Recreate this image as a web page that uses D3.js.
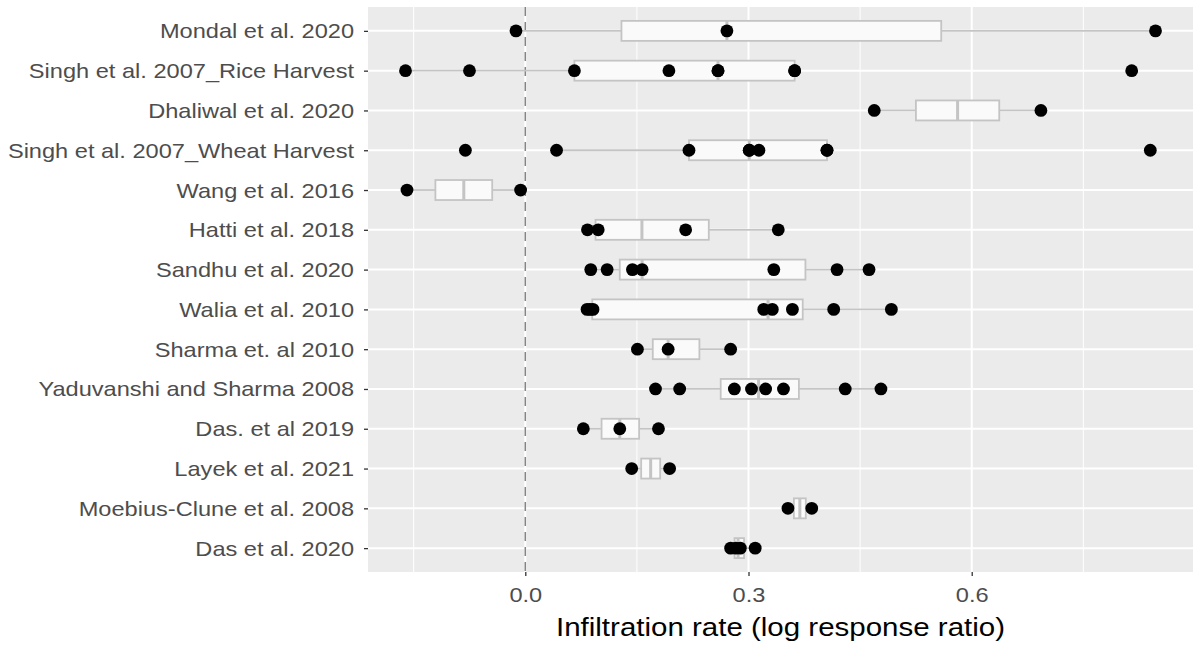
<!DOCTYPE html>
<html>
<head>
<meta charset="utf-8">
<script src="https://cdn.jsdelivr.net/npm/d3@7"></script>
<style>
  body { margin: 0; background: #fff; }
  text { font-family: "Liberation Sans", Arial, sans-serif; }
</style>
</head>
<body>
<div id="chart"></div>
<script>
// Studies, top to bottom
const studies = ["Mondal et al. 2020", "Singh et al. 2007_Rice Harvest", "Dhaliwal et al. 2020",
  "Singh et al. 2007_Wheat Harvest", "Wang et al. 2016", "Hatti et al. 2018", "Sandhu et al. 2020",
  "Walia et al. 2010", "Sharma et. al 2010", "Yaduvanshi and Sharma 2008", "Das. et al 2019",
  "Layek et al. 2021", "Moebius-Clune et al. 2008", "Das et al. 2020"];

// log response ratios for each study (same order)
const values = [
  [-0.0125, 0.271, 0.847],
  [-0.161, -0.075, 0.066, 0.193, 0.259, 0.259, 0.362, 0.362, 0.815],
  [0.469, 0.693],
  [-0.0805, 0.042, 0.220, 0.301, 0.301, 0.314, 0.4055, 0.4055, 0.840],
  [-0.159, -0.0063],
  [0.0836, 0.098, 0.2155, 0.340],
  [0.088, 0.110, 0.144, 0.157, 0.334, 0.419, 0.462],
  [0.083, 0.087, 0.091, 0.3205, 0.332, 0.359, 0.4145, 0.492],
  [0.1507, 0.192, 0.276],
  [0.175, 0.2075, 0.281, 0.304, 0.323, 0.347, 0.430, 0.478],
  [0.078, 0.127, 0.179],
  [0.143, 0.194],
  [0.353, 0.385],
  [0.276, 0.283, 0.289, 0.309]
];

const xTicks = [0.0, 0.3, 0.6];
const xMinor = [-0.15, 0.15, 0.45, 0.75];
const xTitle = "Infiltration rate (log response ratio)";

const width = 1195;
const height = 645;
const margin = {left: 368, right: 2, top: 7, bottom: 73};
const stretch = 1.18; // text in the original is a bit wider than Arial

const svg = d3.select("#chart")
  .append("svg")
  .attr("width", width)
  .attr("height", height);

// x scale with ggplot-like 5% expansion
const allVals = values.flat();
const ext = d3.extent(allVals);
const pad = (ext[1] - ext[0]) * 0.05;
const x = d3.scaleLinear()
  .domain([ext[0] - pad, ext[1] + pad])
  .range([margin.left, width - margin.right]);

const y = d3.scalePoint()
  .domain(studies)
  .range([margin.top, height - margin.bottom])
  .padding(0.6);

// panel background
svg.append("rect")
  .attr("x", margin.left)
  .attr("y", margin.top)
  .attr("width", width - margin.right - margin.left)
  .attr("height", height - margin.bottom - margin.top)
  .attr("fill", "#ebebeb");

// grid lines
svg.append("g").selectAll("line")
  .data(xMinor)
  .join("line")
  .attr("x1", d => x(d)).attr("x2", d => x(d))
  .attr("y1", margin.top).attr("y2", height - margin.bottom)
  .attr("stroke", "#fff").attr("stroke-width", 1);

svg.append("g").selectAll("line")
  .data(xTicks)
  .join("line")
  .attr("x1", d => x(d)).attr("x2", d => x(d))
  .attr("y1", margin.top).attr("y2", height - margin.bottom)
  .attr("stroke", "#fff").attr("stroke-width", 2);

svg.append("g").selectAll("line")
  .data(studies)
  .join("line")
  .attr("x1", margin.left).attr("x2", width - margin.right)
  .attr("y1", d => y(d)).attr("y2", d => y(d))
  .attr("stroke", "#fff").attr("stroke-width", 2);

// dashed zero line
svg.append("line")
  .attr("x1", x(0)).attr("x2", x(0))
  .attr("y1", margin.top).attr("y2", height - margin.bottom)
  .attr("stroke", "#858585")
  .attr("stroke-width", 1.5)
  .attr("stroke-dasharray", "9,6");

// boxplot stats (type 7 quantiles, 1.5 IQR whiskers)
const stats = studies.map((s, i) => {
  const v = values[i].slice().sort(d3.ascending);
  const q1 = d3.quantile(v, 0.25);
  const med = d3.quantile(v, 0.5);
  const q3 = d3.quantile(v, 0.75);
  const iqr = q3 - q1;
  const lo = d3.min(v.filter(d => d >= q1 - 1.5 * iqr));
  const hi = d3.max(v.filter(d => d <= q3 + 1.5 * iqr));
  return {study: s, q1, med, q3, lo, hi};
});

const boxH = 20;
const boxColor = "#c4c4c4";

const boxes = svg.append("g").selectAll("g")
  .data(stats)
  .join("g");

boxes.append("line")
  .attr("x1", d => x(d.lo)).attr("x2", d => x(d.q1))
  .attr("y1", d => y(d.study)).attr("y2", d => y(d.study))
  .attr("stroke", boxColor).attr("stroke-width", 1.8);

boxes.append("line")
  .attr("x1", d => x(d.q3)).attr("x2", d => x(d.hi))
  .attr("y1", d => y(d.study)).attr("y2", d => y(d.study))
  .attr("stroke", boxColor).attr("stroke-width", 1.8);

boxes.append("rect")
  .attr("x", d => x(d.q1))
  .attr("y", d => y(d.study) - boxH / 2)
  .attr("width", d => x(d.q3) - x(d.q1))
  .attr("height", boxH)
  .attr("fill", "#fafafa")
  .attr("stroke", boxColor).attr("stroke-width", 1.8);

boxes.append("line")
  .attr("x1", d => x(d.med)).attr("x2", d => x(d.med))
  .attr("y1", d => y(d.study) - boxH / 2).attr("y2", d => y(d.study) + boxH / 2)
  .attr("stroke", boxColor).attr("stroke-width", 3);

// points
const pts = [];
studies.forEach((s, i) => values[i].forEach(v => pts.push({study: s, v})));

svg.append("g").selectAll("circle")
  .data(pts)
  .join("circle")
  .attr("cx", d => x(d.v))
  .attr("cy", d => y(d.study))
  .attr("r", 6.4)
  .attr("fill", "#000");

// axes
const yAxis = svg.append("g")
  .attr("transform", `translate(${margin.left},0)`)
  .call(d3.axisLeft(y).tickSize(4));
yAxis.select(".domain").remove();
yAxis.selectAll("line").attr("stroke", "#333").attr("stroke-width", 1.3);
yAxis.selectAll("text")
  .attr("x", -14 / stretch)
  .attr("dy", "0.35em")
  .attr("transform", `scale(${stretch},1)`)
  .attr("fill", "#4d4d4d")
  .attr("font-size", "20px")
  .attr("font-family", "Liberation Sans, Arial, sans-serif");

const xAxis = svg.append("g")
  .attr("transform", `translate(0,${height - margin.bottom})`)
  .call(d3.axisBottom(x).tickValues(xTicks).tickFormat(d3.format(".1f")).tickSize(4));
xAxis.select(".domain").remove();
xAxis.selectAll("line").attr("stroke", "#333").attr("stroke-width", 1.3);
xAxis.selectAll("text")
  .attr("y", 30)
  .attr("dy", null)
  .attr("transform", `scale(${stretch},1)`)
  .attr("fill", "#4d4d4d")
  .attr("font-size", "20px")
  .attr("font-family", "Liberation Sans, Arial, sans-serif");

svg.append("text")
  .attr("transform", `translate(${(margin.left + width - margin.right) / 2},${height - 9}) scale(${stretch},1)`)
  .attr("text-anchor", "middle")
  .attr("font-size", "25px")
  .attr("fill", "#000")
  .text(xTitle);
</script>
</body>
</html>
